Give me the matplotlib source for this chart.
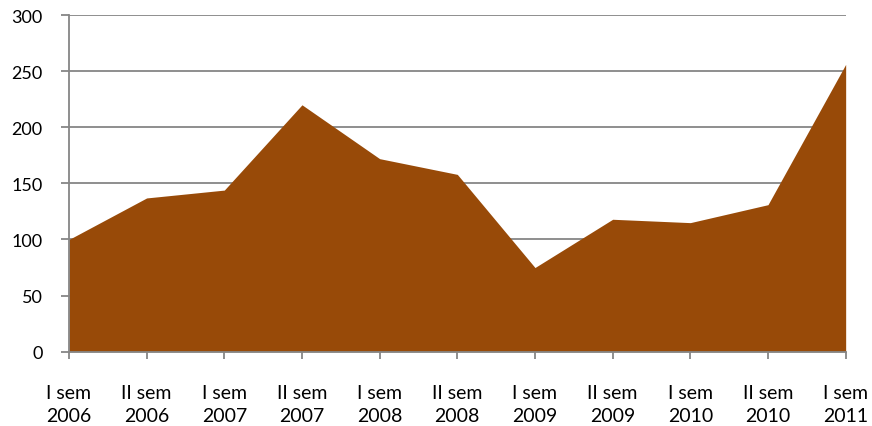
import matplotlib
matplotlib.use("Agg")
import matplotlib.pyplot as plt

# Semester labels and values
semesters = ["I sem", "II sem", "I sem", "II sem", "I sem", "II sem",
             "I sem", "II sem", "I sem", "II sem", "I sem"]
years = ["2006", "2006", "2007", "2007", "2008", "2008",
         "2009", "2009", "2010", "2010", "2011"]
values = [100, 137, 144, 220, 172, 158, 75, 118, 115, 131, 256]
y_ticks = [0, 50, 100, 150, 200, 250, 300]

plt.rcParams["font.family"] = ["Lato", "DejaVu Sans"]

fig = plt.figure(figsize=(8.72, 4.27), dpi=100)
ax = fig.add_axes([0.0791, 0.174, 0.8907, 0.7885])

x = list(range(len(values)))
ax.fill_between(x, 0, values, color="#984A08", linewidth=0, zorder=3)

ax.set_xlim(0, len(values) - 1)
ax.set_ylim(0, 300)
ax.set_yticks(y_ticks)
ax.set_xticks(x)
ax.set_xticklabels([f"{s}\n{y}" for s, y in zip(semesters, years)],
                   fontsize=14, linespacing=1.45)
ax.tick_params(axis="y", labelsize=13, length=6, width=1.3,
               color="#868686", pad=13)
ax.tick_params(axis="x", length=5, width=1.3, color="#868686", pad=18)

ax.grid(axis="y", color="#868686", linewidth=1.3, zorder=1)
for side in ["top", "right"]:
    ax.spines[side].set_visible(False)
for side in ["left", "bottom"]:
    ax.spines[side].set_color("#868686")
    ax.spines[side].set_linewidth(1.3)
    ax.spines[side].set_zorder(4)

fig.savefig("out.png", dpi=100)
